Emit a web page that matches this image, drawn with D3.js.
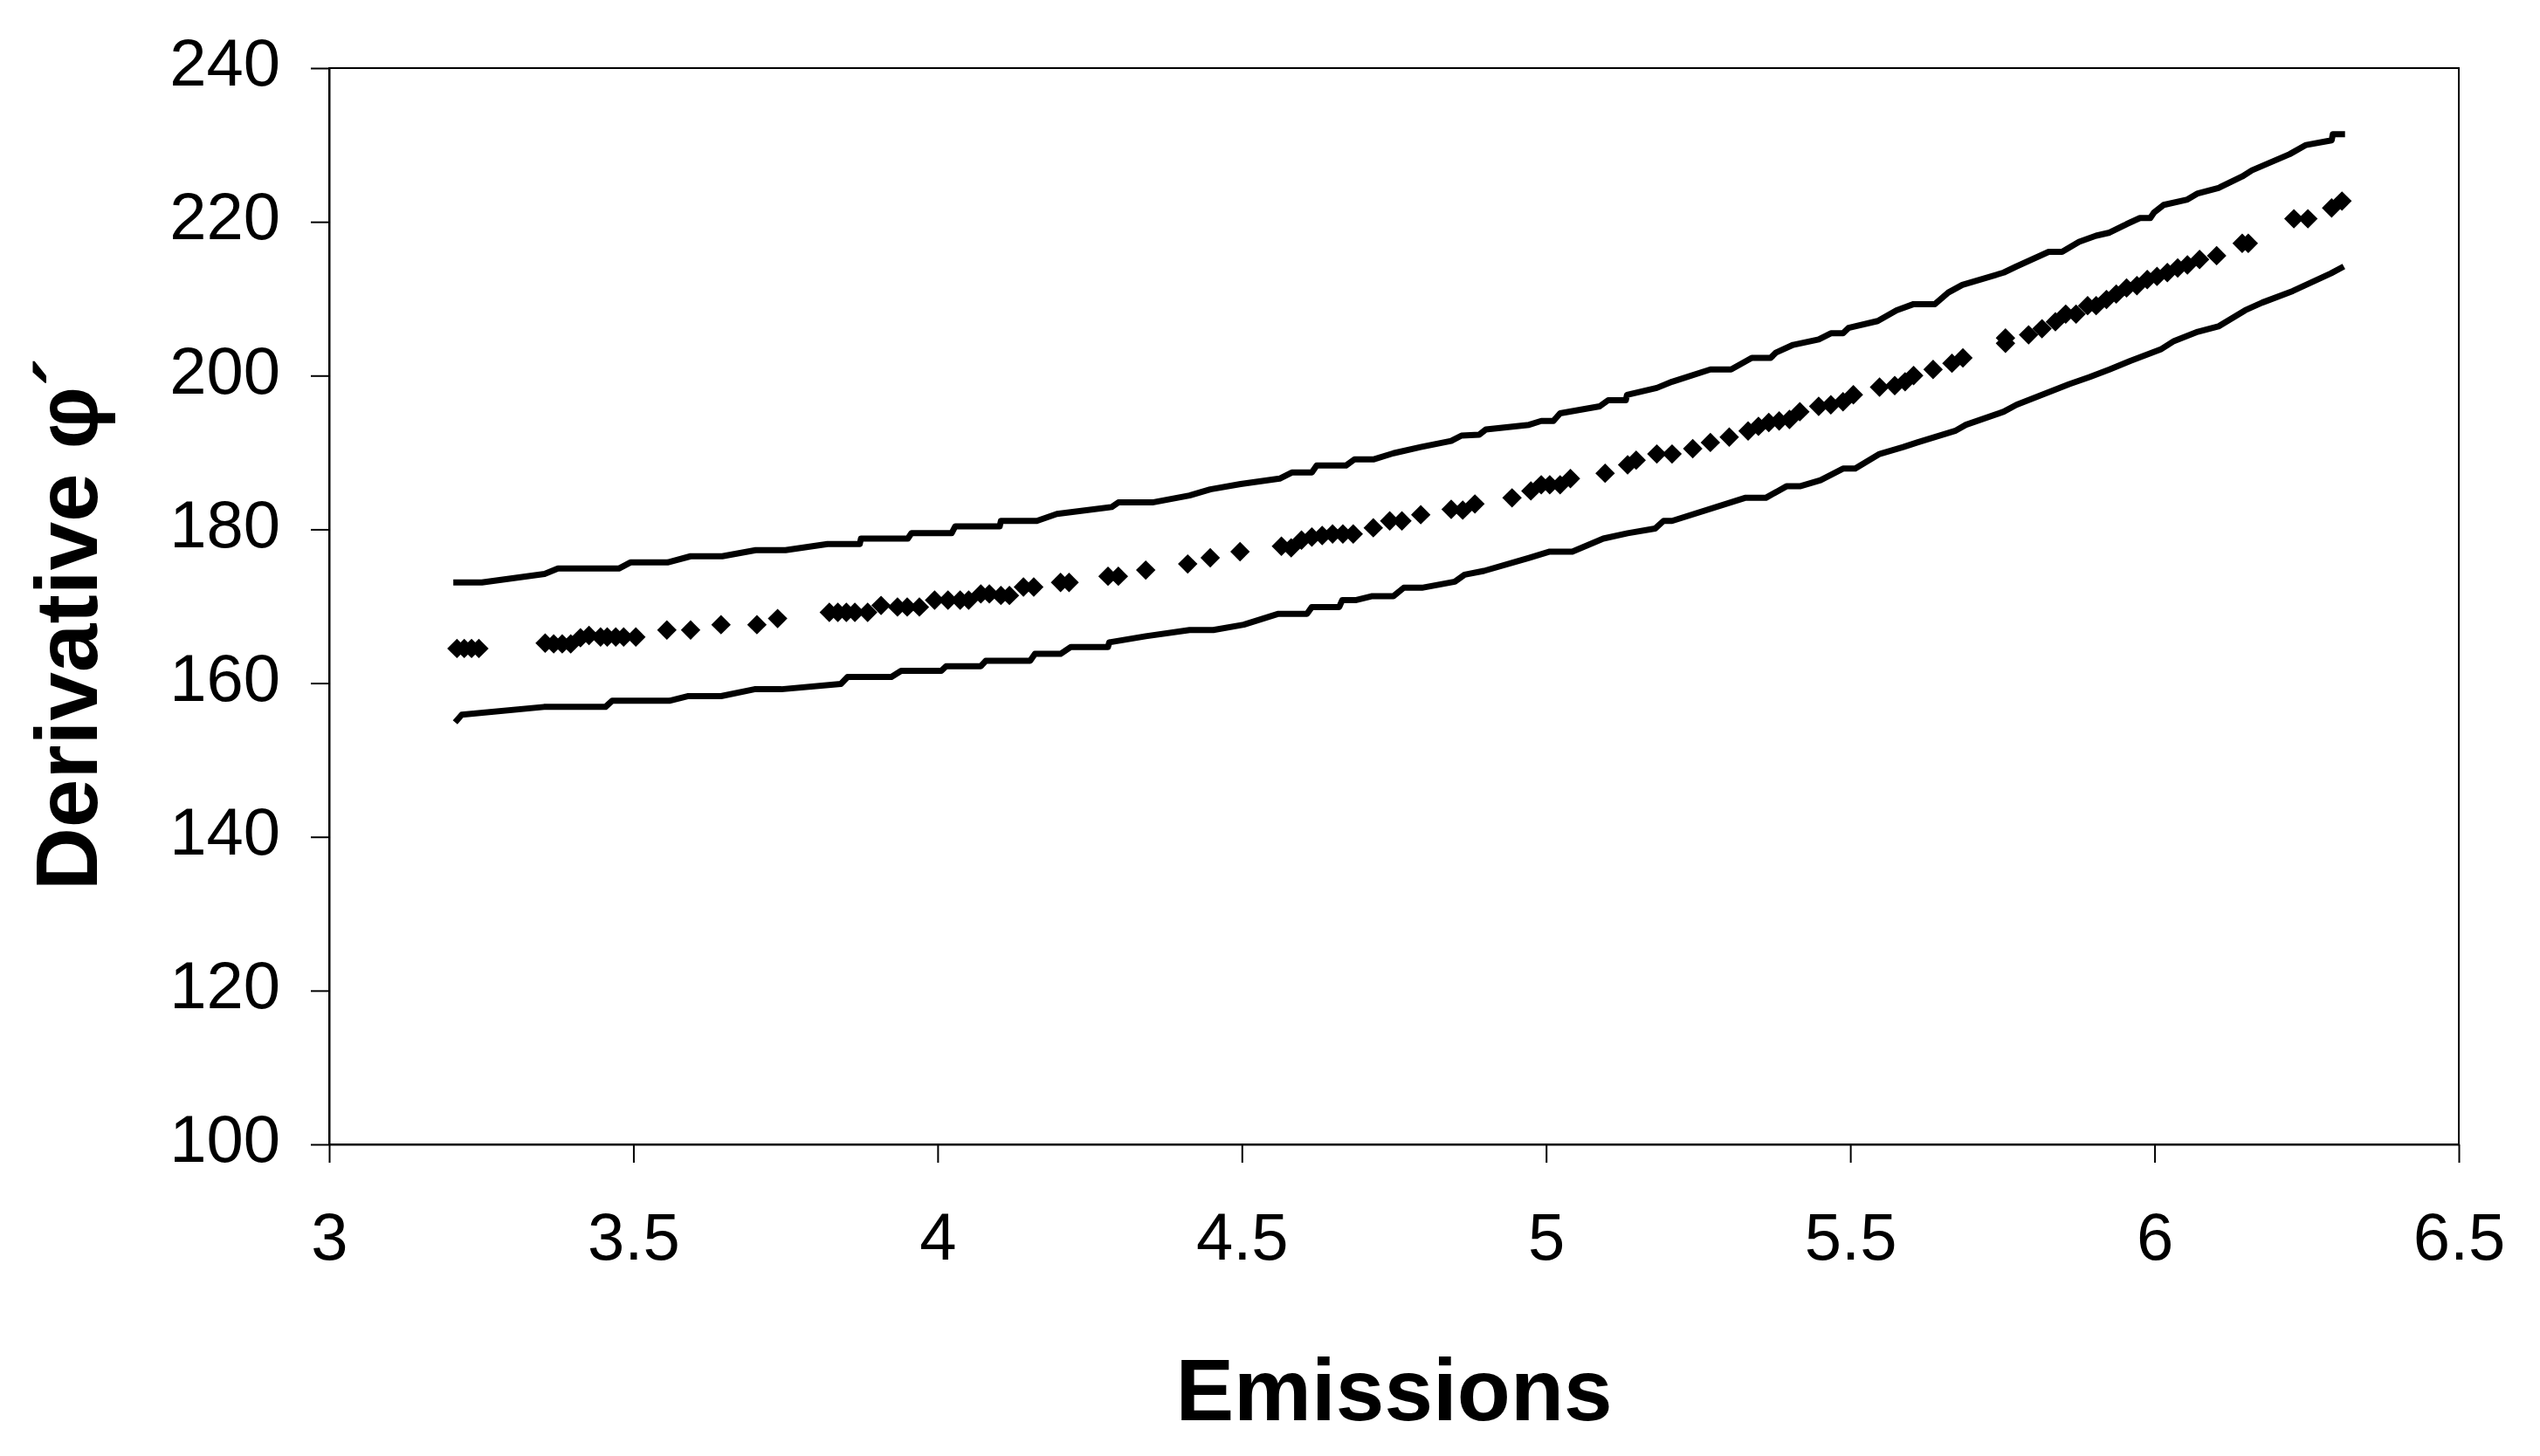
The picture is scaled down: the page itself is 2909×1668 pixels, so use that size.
<!DOCTYPE html>
<head>
  <meta charset="utf-8">
  <script src="https://d3js.org/d3.v7.min.js"></script>
  <style>
    body { margin:0; background:#fff; }
    svg { display:block; }
    text { font-family: "Liberation Sans", Arial, sans-serif; fill:#000; }
  </style>
</head>

<body>
  <script>
  // upper confidence band
  var upperBand = [
    [3.204,173.1],[3.251,173.1],[3.354,174.2],[3.376,174.9],[3.476,174.9],[3.495,175.7],
    [3.556,175.7],[3.594,176.5],[3.646,176.5],[3.701,177.3],[3.750,177.3],[3.819,178.1],
    [3.872,178.1],[3.874,178.8],[3.951,178.8],[3.957,179.5],[4.023,179.5],[4.029,180.4],
    [4.102,180.4],[4.104,181.1],[4.163,181.1],[4.196,182.0],[4.286,182.9],[4.297,183.5],
    [4.353,183.5],[4.414,184.4],[4.448,185.2],[4.498,185.9],[4.562,186.6],[4.582,187.4],
    [4.615,187.4],[4.623,188.3],[4.671,188.3],[4.685,189.1],[4.716,189.1],[4.749,189.9],
    [4.794,190.7],[4.844,191.5],[4.861,192.2],[4.890,192.3],[4.901,193.0],[4.972,193.6],
    [4.992,194.1],[5.012,194.1],[5.023,195.1],[5.088,196.0],[5.102,196.8],[5.131,196.8],
    [5.133,197.5],[5.182,198.4],[5.207,199.2],[5.270,200.8],[5.304,200.8],[5.338,202.3],
    [5.369,202.3],[5.378,203.0],[5.406,204.0],[5.448,204.7],[5.468,205.5],[5.488,205.5],
    [5.497,206.2],[5.545,207.1],[5.576,208.5],[5.604,209.3],[5.639,209.3],[5.661,210.8],
    [5.684,211.8],[5.752,213.4],[5.773,214.2],[5.826,216.1],[5.848,216.1],[5.876,217.4],
    [5.904,218.2],[5.926,218.6],[5.954,219.7],[5.976,220.5],[5.993,220.5],[5.999,221.2],
    [6.015,222.2],[6.054,222.9],[6.071,223.7],[6.105,224.4],[6.144,225.9],[6.160,226.7],
    [6.222,228.8],[6.249,230.0],[6.291,230.6],[6.293,231.4],[6.313,231.4]
  ];

  // lower confidence band
  var lowerBand = [
    [3.207,154.9],[3.218,155.9],[3.353,156.9],[3.454,156.9],[3.465,157.7],[3.559,157.7],
    [3.589,158.3],[3.644,158.3],[3.699,159.2],[3.743,159.2],[3.841,159.9],[3.852,160.8],
    [3.924,160.8],[3.940,161.6],[4.006,161.6],[4.014,162.2],[4.071,162.2],[4.079,162.9],
    [4.152,162.9],[4.160,163.8],[4.202,163.8],[4.219,164.7],[4.280,164.7],[4.282,165.3],
    [4.342,166.1],[4.414,166.9],[4.453,166.9],[4.503,167.6],[4.559,169.0],[4.607,169.0],
    [4.615,169.9],[4.660,169.9],[4.665,170.8],[4.688,170.8],[4.713,171.3],[4.749,171.3],
    [4.766,172.4],[4.796,172.4],[4.850,173.2],[4.866,174.1],[4.898,174.6],[4.972,176.3],
    [5.006,177.1],[5.043,177.1],[5.094,178.8],[5.134,179.5],[5.179,180.1],[5.193,181.1],
    [5.207,181.1],[5.327,184.1],[5.361,184.1],[5.395,185.6],[5.417,185.6],[5.451,186.4],
    [5.488,187.9],[5.508,187.9],[5.548,189.8],[5.587,190.7],[5.610,191.3],[5.672,192.8],
    [5.690,193.6],[5.752,195.3],[5.773,196.2],[5.860,198.9],[5.893,199.8],[5.926,200.8],
    [5.960,201.9],[6.010,203.4],[6.032,204.5],[6.071,205.7],[6.105,206.4],[6.149,208.5],
    [6.177,209.5],[6.227,211.0],[6.290,213.3],[6.311,214.2]
  ];

  // estimated derivative (diamond markers)
  var estimates = [
    [3.210,164.5],[3.222,164.5],[3.234,164.5],[3.246,164.5],[3.355,165.2],[3.369,165.1],
    [3.383,165.1],[3.397,165.1],[3.413,165.9],[3.427,166.2],[3.446,166.0],[3.457,166.0],
    [3.471,166.0],[3.484,166.0],[3.504,166.0],[3.555,166.9],[3.594,166.9],[3.644,167.6],
    [3.703,167.6],[3.737,168.4],[3.822,169.2],[3.836,169.2],[3.850,169.2],[3.864,169.2],
    [3.885,169.2],[3.907,170.1],[3.934,169.9],[3.950,169.9],[3.970,169.9],[3.995,170.8],
    [4.017,170.8],[4.037,170.8],[4.051,170.8],[4.071,171.6],[4.085,171.6],[4.104,171.4],
    [4.118,171.4],[4.141,172.5],[4.158,172.5],[4.202,173.1],[4.216,173.1],[4.280,173.9],
    [4.297,173.9],[4.342,174.7],[4.411,175.5],[4.448,176.3],[4.497,177.1],[4.565,177.8],
    [4.581,177.6],[4.598,178.6],[4.615,179.0],[4.632,179.2],[4.649,179.4],[4.666,179.4],
    [4.683,179.4],[4.716,180.2],[4.743,181.1],[4.763,181.1],[4.794,181.9],[4.844,182.6],
    [4.863,182.5],[4.883,183.3],[4.944,184.1],[4.975,185.0],[4.992,185.8],[5.006,185.8],
    [5.023,185.8],[5.040,186.6],[5.097,187.3],[5.134,188.4],[5.148,189.0],[5.182,189.8],
    [5.207,189.8],[5.241,190.5],[5.270,191.3],[5.301,192.0],[5.332,192.8],[5.349,193.4],
    [5.366,193.9],[5.383,194.1],[5.400,194.3],[5.417,195.3],[5.448,196.0],[5.468,196.2],
    [5.488,196.6],[5.505,197.5],[5.548,198.5],[5.573,198.7],[5.590,199.2],[5.604,200.0],
    [5.636,200.8],[5.667,201.6],[5.685,202.3],[5.755,204.2],[5.755,204.9],[5.793,205.3],
    [5.815,206.1],[5.837,207.0],[5.854,208.0],[5.871,208.0],[5.890,209.1],[5.904,209.1],
    [5.921,209.9],[5.937,210.6],[5.954,211.4],[5.971,211.7],[5.988,212.5],[6.004,212.9],
    [6.021,213.4],[6.038,214.0],[6.054,214.4],[6.074,215.1],[6.102,215.6],[6.144,217.2],
    [6.154,217.2],[6.229,220.4],[6.252,220.4],[6.291,221.8],[6.308,222.7]
  ];

  var xTicks = [3, 3.5, 4, 4.5, 5, 5.5, 6, 6.5];
  var yTicks = [100, 120, 140, 160, 180, 200, 220, 240];
  var xTitle = "Emissions";
  var yTitle = "Derivative φ´";

  var width = 2909, height = 1668;
  // plot area edges (window.top is reserved, so prefixed names)
  var plotLeft = 377, plotRight = 2816, plotTop = 78, plotBottom = 1311;

  var svg = d3.select("body").append("svg")
    .attr("width", width)
    .attr("height", height);

  svg.append("rect").attr("width", width).attr("height", height).attr("fill", "#fff");

  var x = d3.scaleLinear().domain([3, 6.5]).range([plotLeft, plotRight]);
  var y = d3.scaleLinear().domain([100, 240]).range([plotBottom, plotTop]);

  // plot frame
  svg.append("rect")
    .attr("x", plotLeft).attr("y", plotTop)
    .attr("width", plotRight - plotLeft).attr("height", plotBottom - plotTop)
    .attr("fill", "none").attr("stroke", "#000").attr("stroke-width", 2);

  var xAxis = svg.append("g")
    .attr("transform", "translate(0," + plotBottom + ")")
    .call(d3.axisBottom(x).tickValues(xTicks).tickSize(21).tickSizeOuter(0).tickPadding(57)
      .tickFormat(d3.format("")));
  var yAxis = svg.append("g")
    .attr("transform", "translate(" + plotLeft + ",0)")
    .call(d3.axisLeft(y).tickValues(yTicks).tickSize(21).tickSizeOuter(0).tickPadding(35));

  [xAxis, yAxis].forEach(function(g) {
    g.select(".domain").attr("stroke", "#000").attr("stroke-width", 2);
    g.selectAll(".tick line").attr("stroke", "#000").attr("stroke-width", 2);
    g.selectAll(".tick text")
      .style("font-family", '"Liberation Sans", Arial, sans-serif')
      .style("font-size", "76px").attr("fill", "#000");
  });
  yAxis.selectAll(".tick text").attr("dy", "0.26em");

  // bands
  var line = d3.line()
    .x(function(d) { return x(d[0]); })
    .y(function(d) { return y(d[1]); });

  [upperBand, lowerBand].forEach(function(band) {
    svg.append("path")
      .attr("d", line(band))
      .attr("fill", "none")
      .attr("stroke", "#000")
      .attr("stroke-width", 7)
      .attr("stroke-linejoin", "round");
  });

  // diamonds
  var diamond = d3.symbol().type(d3.symbolSquare).size(250);
  svg.selectAll("path.pt")
    .data(estimates).enter()
    .append("path")
    .attr("class", "pt")
    .attr("d", diamond)
    .attr("transform", function(d) {
      return "translate(" + x(d[0]) + "," + y(d[1]) + ") rotate(45)";
    })
    .attr("fill", "#000");

  // axis titles
  svg.append("text")
    .attr("x", (plotLeft + plotRight) / 2)
    .attr("y", 1627)
    .attr("text-anchor", "middle")
    .style("font-size", "100px")
    .style("font-weight", "bold")
    .text(xTitle);

  svg.append("text")
    .attr("transform", "translate(111,715) rotate(-90)")
    .attr("text-anchor", "middle")
    .style("font-size", "100px")
    .style("font-weight", "bold")
    .text(yTitle);
  </script>
</body>
</html>
